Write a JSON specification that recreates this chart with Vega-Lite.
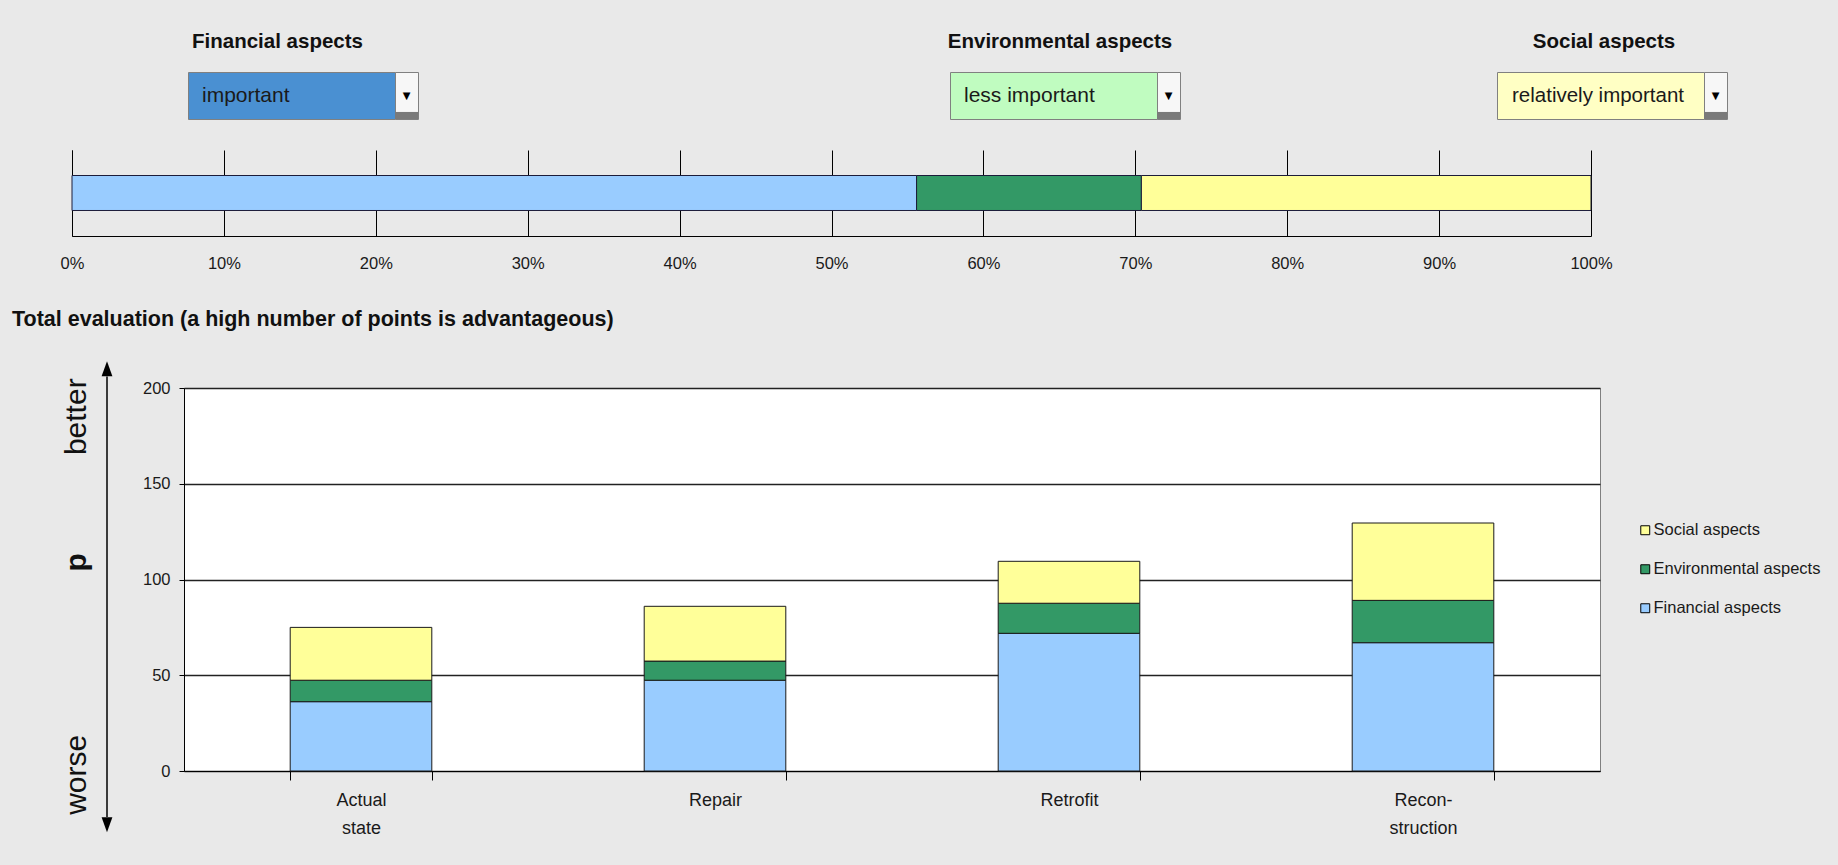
{
  "$schema": "https://vega.github.io/schema/vega-lite/v6.json",
  "background": "#e9e9e9",
  "autosize": {"type": "none"},
  "padding": {"left": 0, "top": 72, "right": 1838, "bottom": 793},
  "config": {
    "font": "Liberation Sans, Arial, sans-serif",
    "view": {"stroke": null},
    "axis": {"labelColor": "#1a1a1a", "domainColor": "#000000", "tickColor": "#000000"},
    "legend": {"labelColor": "#1a1a1a"},
    "title": {"color": "#111111"}
  },
  "spacing": 30,
  "bounds": "full",
  "resolve": {"scale": {"color": "independent"}, "legend": {"color": "independent"}},
  "vconcat": [
    {
      "spacing": 0,
      "bounds": "flush",
      "hconcat": [
        {"width": 188, "height": 10, "data": {"values": []}, "mark": "point"},
        {
          "width": 207, "height": 47,
          "view": {"fill": "#4a90d2", "stroke": "#808080", "strokeWidth": 1},
          "title": {"text": "Financial aspects", "anchor": "middle", "dx": -14, "offset": 19.5, "fontSize": 20.5, "fontWeight": "bold"},
          "data": {"values": [{"aspect": "Financial aspects", "level": "important"}]},
          "mark": {"type": "text", "align": "left", "baseline": "middle", "dx": 14, "fontSize": 21, "color": "#1a1a1a"},
          "encoding": {
            "x": {"datum": 0, "type": "quantitative", "scale": {"domain": [0, 1]}, "axis": null},
            "text": {"field": "level", "type": "nominal"}
          }
        },
        {
          "width": 23, "height": 47,
          "view": {"fill": "#f7f7f7", "stroke": "#808080", "strokeWidth": 1},
          "data": {"values": [{"glyph": "▼"}]},
          "layer": [
            {
              "mark": {"type": "rect", "color": "#7a7a7a"},
              "encoding": {
                "x": {"datum": 0, "type": "quantitative", "scale": {"domain": [0, 1]}, "axis": null},
                "x2": {"datum": 1},
                "y": {"datum": 0, "type": "quantitative", "scale": {"domain": [0, 1]}, "axis": null},
                "y2": {"datum": 0.15}
              }
            },
            {
              "mark": {"type": "text", "fontSize": 10, "font": "DejaVu Sans", "color": "#000000"},
              "encoding": {"text": {"field": "glyph", "type": "nominal"}}
            }
          ]
        },
        {"width": 532, "height": 10, "data": {"values": []}, "mark": "point"},
        {
          "width": 207, "height": 47,
          "view": {"fill": "#c0fcc0", "stroke": "#808080", "strokeWidth": 1},
          "title": {"text": "Environmental aspects", "anchor": "middle", "dx": 6.5, "offset": 19.5, "fontSize": 20.5, "fontWeight": "bold"},
          "data": {"values": [{"aspect": "Environmental aspects", "level": "less important"}]},
          "mark": {"type": "text", "align": "left", "baseline": "middle", "dx": 14, "fontSize": 21, "color": "#1a1a1a"},
          "encoding": {
            "x": {"datum": 0, "type": "quantitative", "scale": {"domain": [0, 1]}, "axis": null},
            "text": {"field": "level", "type": "nominal"}
          }
        },
        {
          "width": 23, "height": 47,
          "view": {"fill": "#f7f7f7", "stroke": "#808080", "strokeWidth": 1},
          "data": {"values": [{"glyph": "▼"}]},
          "layer": [
            {
              "mark": {"type": "rect", "color": "#7a7a7a"},
              "encoding": {
                "x": {"datum": 0, "type": "quantitative", "scale": {"domain": [0, 1]}, "axis": null},
                "x2": {"datum": 1},
                "y": {"datum": 0, "type": "quantitative", "scale": {"domain": [0, 1]}, "axis": null},
                "y2": {"datum": 0.15}
              }
            },
            {
              "mark": {"type": "text", "fontSize": 10, "font": "DejaVu Sans", "color": "#000000"},
              "encoding": {"text": {"field": "glyph", "type": "nominal"}}
            }
          ]
        },
        {"width": 317, "height": 10, "data": {"values": []}, "mark": "point"},
        {
          "width": 207, "height": 47,
          "view": {"fill": "#ffffc4", "stroke": "#808080", "strokeWidth": 1},
          "title": {"text": "Social aspects", "anchor": "middle", "dx": 3.5, "offset": 19.5, "fontSize": 20.5, "fontWeight": "bold"},
          "data": {"values": [{"aspect": "Social aspects", "level": "relatively important"}]},
          "mark": {"type": "text", "align": "left", "baseline": "middle", "dx": 15, "fontSize": 20.5, "color": "#1a1a1a"},
          "encoding": {
            "x": {"datum": 0, "type": "quantitative", "scale": {"domain": [0, 1]}, "axis": null},
            "text": {"field": "level", "type": "nominal"}
          }
        },
        {
          "width": 23, "height": 47,
          "view": {"fill": "#f7f7f7", "stroke": "#808080", "strokeWidth": 1},
          "data": {"values": [{"glyph": "▼"}]},
          "layer": [
            {
              "mark": {"type": "rect", "color": "#7a7a7a"},
              "encoding": {
                "x": {"datum": 0, "type": "quantitative", "scale": {"domain": [0, 1]}, "axis": null},
                "x2": {"datum": 1},
                "y": {"datum": 0, "type": "quantitative", "scale": {"domain": [0, 1]}, "axis": null},
                "y2": {"datum": 0.15}
              }
            },
            {
              "mark": {"type": "text", "fontSize": 10, "font": "DejaVu Sans", "color": "#000000"},
              "encoding": {"text": {"field": "glyph", "type": "nominal"}}
            }
          ]
        }
      ]
    },
    {
      "spacing": 0,
      "bounds": "flush",
      "hconcat": [
        {"width": 72, "height": 129, "data": {"values": []}, "mark": "point"},
        {
          "width": 1519, "height": 86,
          "data": {"values": [
            {"aspect": "Financial aspects", "weight": 55.6, "rank": 1},
            {"aspect": "Environmental aspects", "weight": 14.8, "rank": 2},
            {"aspect": "Social aspects", "weight": 29.6, "rank": 3}
          ]},
          "mark": {"type": "bar", "stroke": "#1c1c3a", "strokeWidth": 1},
          "encoding": {
            "x": {
              "field": "weight", "type": "quantitative", "stack": "zero",
              "scale": {"domain": [0, 100], "nice": false},
              "axis": {"title": null, "values": [0, 10, 20, 30, 40, 50, 60, 70, 80, 90, 100], "labelExpr": "datum.value + '%'", "grid": true, "gridColor": "#000000", "gridWidth": 1, "gridOpacity": 1, "ticks": false, "labelPadding": 19, "labelFontSize": 16.5, "labelFlush": false}
            },
            "y": {"datum": "weights", "type": "nominal", "scale": {"paddingInner": 0, "paddingOuter": 0.7286}, "axis": {"title": null, "labels": false, "ticks": false, "domain": true}},
            "color": {
              "field": "aspect", "type": "nominal",
              "scale": {"domain": ["Financial aspects", "Environmental aspects", "Social aspects"], "range": ["#99ccff", "#339966", "#ffff99"]},
              "legend": null
            },
            "order": {"field": "rank", "type": "quantitative"}
          }
        }
      ]
    },
    {
      "title": {"text": "Total evaluation (a high number of points is advantageous)", "anchor": "start", "frame": "bounds", "dx": 12, "offset": 30.5, "fontSize": 21.5, "fontWeight": "bold"},
      "spacing": 0,
      "bounds": "flush",
      "resolve": {"scale": {"color": "independent"}, "legend": {"color": "independent"}},
      "hconcat": [
        {"width": 62, "height": 10, "data": {"values": []}, "mark": "point"},
        {
          "width": 30, "height": 383,
          "layer": [
            {
              "data": {"values": [{"note": "better"}]},
              "mark": {"type": "text", "angle": 270, "font": "Liberation Sans", "fontSize": 30, "color": "#111111"},
              "encoding": {"y": {"datum": 185, "type": "quantitative", "scale": {"domain": [0, 200]}, "axis": null}, "text": {"field": "note", "type": "nominal"}}
            },
            {
              "data": {"values": [{"note": "p"}]},
              "mark": {"type": "text", "angle": 270, "font": "Liberation Sans", "fontSize": 30, "fontWeight": "bold", "color": "#111111"},
              "encoding": {"y": {"datum": 109, "type": "quantitative", "scale": {"domain": [0, 200]}, "axis": null}, "text": {"field": "note", "type": "nominal"}}
            },
            {
              "data": {"values": [{"note": "worse"}]},
              "mark": {"type": "text", "angle": 270, "font": "Liberation Sans", "fontSize": 30, "color": "#111111"},
              "encoding": {"y": {"datum": -2, "type": "quantitative", "scale": {"domain": [0, 200]}, "axis": null}, "text": {"field": "note", "type": "nominal"}}
            }
          ]
        },
        {
          "width": 30, "height": 383,
          "data": {"values": [{"marker": "points axis arrow"}]},
          "layer": [
            {
              "mark": {"type": "rule", "color": "#000000", "strokeWidth": 1.5},
              "encoding": {"y": {"datum": 206, "type": "quantitative", "scale": {"domain": [0, 200]}, "axis": null}, "y2": {"datum": -24}}
            },
            {
              "mark": {"type": "point", "shape": "M0,0L0.36,1L-0.36,1Z", "filled": true, "color": "#000000", "size": 900, "opacity": 1, "strokeWidth": 0},
              "encoding": {"y": {"datum": 214, "type": "quantitative", "scale": {"domain": [0, 200]}, "axis": null}}
            },
            {
              "mark": {"type": "point", "shape": "M0,0L0.36,-1L-0.36,-1Z", "filled": true, "color": "#000000", "size": 900, "opacity": 1, "strokeWidth": 0},
              "encoding": {"y": {"datum": -32, "type": "quantitative", "scale": {"domain": [0, 200]}, "axis": null}}
            }
          ]
        },
        {"width": 62, "height": 10, "data": {"values": []}, "mark": "point"},
        {
          "width": 1416, "height": 383,
          "view": {"fill": "#ffffff", "stroke": "#808080", "strokeWidth": 1},
          "data": {"values": [
            {"stage": "Actual state", "aspect": "Financial aspects", "points": 36.2, "rank": 1},
            {"stage": "Actual state", "aspect": "Environmental aspects", "points": 11.2, "rank": 2},
            {"stage": "Actual state", "aspect": "Social aspects", "points": 27.6, "rank": 3},
            {"stage": "Repair", "aspect": "Financial aspects", "points": 47.4, "rank": 1},
            {"stage": "Repair", "aspect": "Environmental aspects", "points": 10.0, "rank": 2},
            {"stage": "Repair", "aspect": "Social aspects", "points": 28.6, "rank": 3},
            {"stage": "Retrofit", "aspect": "Financial aspects", "points": 71.9, "rank": 1},
            {"stage": "Retrofit", "aspect": "Environmental aspects", "points": 15.7, "rank": 2},
            {"stage": "Retrofit", "aspect": "Social aspects", "points": 21.9, "rank": 3},
            {"stage": "Reconstruction", "aspect": "Financial aspects", "points": 67.0, "rank": 1},
            {"stage": "Reconstruction", "aspect": "Environmental aspects", "points": 22.1, "rank": 2},
            {"stage": "Reconstruction", "aspect": "Social aspects", "points": 40.4, "rank": 3}
          ]},
          "mark": {"type": "bar", "stroke": "#1a1a1a", "strokeWidth": 1},
          "encoding": {
            "x": {
              "field": "stage", "type": "nominal", "sort": null,
              "scale": {"paddingInner": 0.6, "paddingOuter": 0.3},
              "axis": {"title": null, "labelAngle": 0, "tickBand": "extent", "tickSize": 9, "labelFontSize": 18, "labelLineHeight": 28, "labelPadding": 11,
                       "labelExpr": "datum.value == 'Actual state' ? ['Actual', 'state'] : datum.value == 'Reconstruction' ? ['Recon-', 'struction'] : datum.value"}
            },
            "y": {
              "field": "points", "type": "quantitative", "stack": "zero",
              "scale": {"domain": [0, 200], "nice": false},
              "axis": {"title": null, "values": [0, 50, 100, 150, 200], "grid": true, "gridColor": "#222222", "gridWidth": 1.3, "gridOpacity": 1, "tickSize": 5, "labelFontSize": 16.5, "labelPadding": 9}
            },
            "color": {
              "field": "aspect", "type": "nominal",
              "scale": {"domain": ["Financial aspects", "Environmental aspects", "Social aspects"], "range": ["#99ccff", "#339966", "#ffff99"]},
              "legend": {"orient": "none", "legendX": 1453, "legendY": 134, "title": null, "values": ["Social aspects", "Environmental aspects", "Financial aspects"], "symbolType": "square", "symbolSize": 80, "symbolStrokeColor": "#000000", "symbolStrokeWidth": 1, "labelFontSize": 16.5, "labelOffset": 0, "labelLimit": 400, "rowPadding": 22, "padding": 0}
            },
            "order": {"field": "rank", "type": "quantitative"}
          }
        }
      ]
    }
  ]
}
